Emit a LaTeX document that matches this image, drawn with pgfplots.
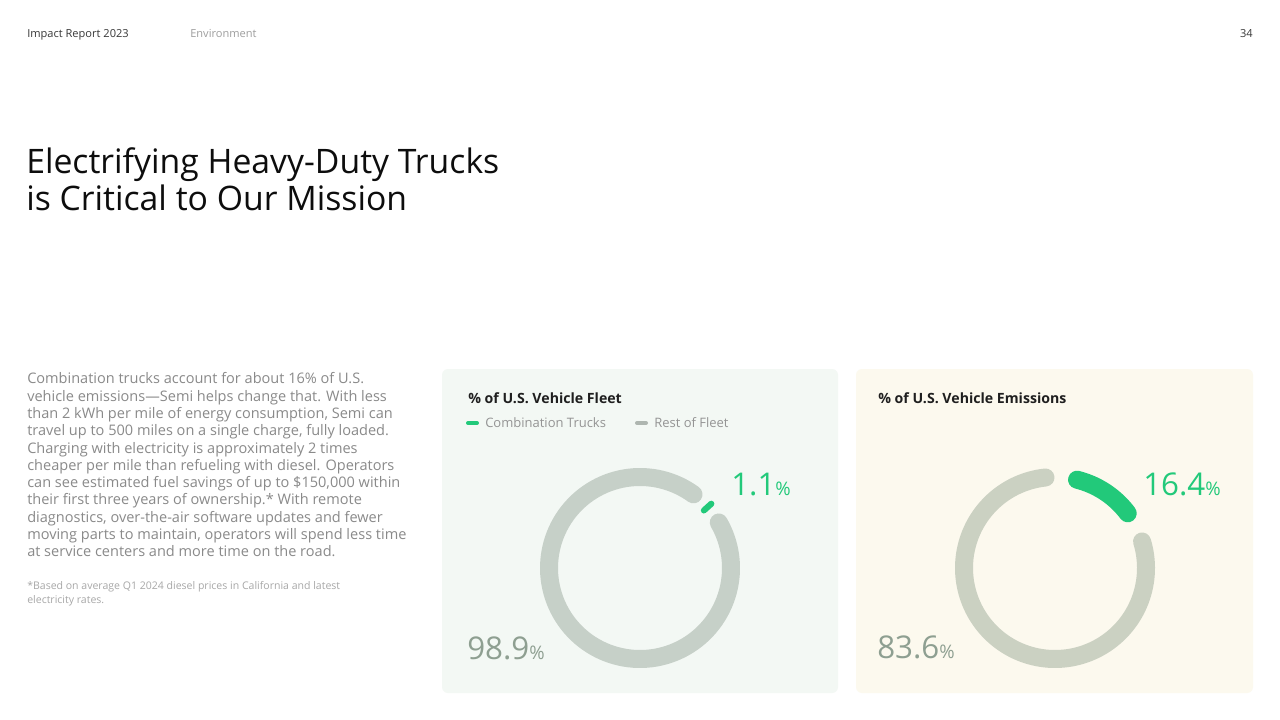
\documentclass[border=0pt]{standalone}
\usepackage{pgfplots}
\pgfplotsset{compat=1.18}
\usepackage{pgfplotstable}
\usepackage{fontspec}
\setmainfont{Open Sans}

\definecolor{ringgreen}{HTML}{22C97A}
\definecolor{ringgrey}{HTML}{C6D0C8}
\definecolor{ringgreyB}{HTML}{CBD1C2}
\definecolor{numgrey}{HTML}{8E9F91}
\definecolor{panelA}{HTML}{F3F8F4}
\definecolor{panelB}{HTML}{FCF9EE}
\definecolor{bodygrey}{HTML}{8A8A8A}
\definecolor{notegrey}{HTML}{A8A8A8}
\definecolor{leggrey}{HTML}{AEB6B0}

% shares in percent
\pgfplotstableread{
part value
combination 1.1
rest 98.9
}\fleetdata
\pgfplotstableread{
part value
combination 16.4
rest 83.6
}\emissiondata

\pgfplotsset{donut/.style={
    hide axis, scale only axis, width=136.5pt, height=136.5pt,
    xmin=-1, xmax=1, ymin=-1, ymax=1, clip=false},
  ring/.style={line width=13.5pt, line cap=round, no markers,
    samples=120, variable=\t}}

\begin{document}
\begin{tikzpicture}[x=0.75pt, y=0.75pt]
\fill[white] (0,0) rectangle (1280,-720);
\coordinate (c1) at (640,-568);
\coordinate (c2) at (1055,-568);

% header
\node[anchor=base west, inner sep=0, font=\fontsize{8.3}{10}\selectfont, text=black!78] at (27,-38) {Impact Report 2023};
\node[anchor=base west, inner sep=0, font=\fontsize{8.3}{10}\selectfont, text=black!38] at (190,-38) {Environment};
\node[anchor=base east, inner sep=0, font=\fontsize{8.3}{10}\selectfont, text=black!78] at (1253,-38) {34};

% title
\node[anchor=base west, inner sep=0, font=\fontsize{25.3}{27}\selectfont, text=black!95] at (26,-174) {Electrifying Heavy-Duty Trucks};
\node[anchor=base west, inner sep=0, font=\fontsize{25.3}{27}\selectfont, text=black!95] at (26,-211) {is Critical to Our Mission};

% body
\node[anchor=north west, inner sep=0, align=left, text=bodygrey,
  font=\fontsize{10.9}{12.97}\selectfont] at (27,-372.5) {%
Combination trucks account for about 16\% of U.S.\\
vehicle emissions---Semi helps change that. With less\\
than 2 kWh per mile of energy consumption, Semi can\\
travel up to 500 miles on a single charge, fully loaded.\\
Charging with electricity is approximately 2 times\\
cheaper per mile than refueling with diesel. Operators\\
can see estimated fuel savings of up to \$150,000 within\\
their first three years of ownership.* With remote\\
diagnostics, over-the-air software updates and fewer\\
moving parts to maintain, operators will spend less time\\
at service centers and more time on the road.};
\node[anchor=north west, inner sep=0, align=left, text=notegrey,
  font=\fontsize{7.9}{10.3}\selectfont] at (27,-581.5) {%
*Based on average Q1 2024 diesel prices in California and latest\\
electricity rates.};

% panels
\fill[panelA, rounded corners=4.5pt] (442,-369) rectangle (838,-693);
\fill[panelB, rounded corners=4.5pt] (856,-369) rectangle (1253,-693);

\node[anchor=base west, inner sep=0, font=\fontsize{10.6}{12}\bfseries\selectfont, text=black!88] at (468,-403) {\% of U.S. Vehicle Fleet};
\node[anchor=base west, inner sep=0, font=\fontsize{10.6}{12}\bfseries\selectfont, text=black!88] at (878,-403) {\% of U.S. Vehicle Emissions};

% legend
\draw[ringgreen, line width=3pt, line cap=round] (468,-423) -- (477,-423);
\node[anchor=base west, inner sep=0, font=\fontsize{9.75}{11}\selectfont, text=black!42] at (485,-427.5) {Combination Trucks};
\draw[leggrey, line width=3pt, line cap=round] (637,-423) -- (646,-423);
\node[anchor=base west, inner sep=0, font=\fontsize{9.75}{11}\selectfont, text=black!42] at (654,-427.5) {Rest of Fleet};

% donut 1: vehicle fleet
\pgfplotstablegetelem{0}{value}\of\fleetdata \let\fa\pgfplotsretval
\pgfmathsetmacro{\fb}{46}        % start angle, clockwise from top
\pgfmathsetmacro{\fgs}{\fb+3.6*\fa+10}
\pgfmathsetmacro{\fge}{\fb+360-10}
\pgfmathsetmacro{\fmid}{\fb+1.8*\fa}
\begin{axis}[donut, at={(c1)}, anchor=center]
\addplot[ring, ringgrey, domain=\fgs:\fge] ({sin(\t)},{cos(\t)});
\addplot[ringgreen, line width=4.6pt, line cap=round, no markers,
  domain=0.945:1.055, samples=2, variable=\r] ({\r*sin(\fmid)},{\r*cos(\fmid)});
\end{axis}

% donut 2: vehicle emissions
\pgfplotstablegetelem{0}{value}\of\emissiondata \let\ea\pgfplotsretval
\pgfmathsetmacro{\eb}{4}
\pgfmathsetmacro{\egs}{\eb+10}
\pgfmathsetmacro{\ege}{\eb+3.6*\ea-10}
\pgfmathsetmacro{\ers}{\eb+3.6*\ea+10}
\pgfmathsetmacro{\ere}{\eb+360-10}
\begin{axis}[donut, at={(c2)}, anchor=center]
\addplot[ring, ringgreyB, domain=\ers:\ere] ({sin(\t)},{cos(\t)});
\addplot[ring, ringgreen, domain=\egs:\ege] ({sin(\t)},{cos(\t)});
\end{axis}

% value labels
\node[anchor=base west, inner sep=0, text=ringgreen] at (731,-495)
  {\fontsize{23.5}{26}\selectfont 1.1\fontsize{14}{16}\selectfont\%};
\node[anchor=base west, inner sep=0, text=numgrey] at (467,-659)
  {\fontsize{23.5}{26}\selectfont 98.9\fontsize{14}{16}\selectfont\%};
\node[anchor=base west, inner sep=0, text=ringgreen] at (1143,-495)
  {\fontsize{23.5}{26}\selectfont 16.4\fontsize{14}{16}\selectfont\%};
\node[anchor=base west, inner sep=0, text=numgrey] at (877,-658)
  {\fontsize{23.5}{26}\selectfont 83.6\fontsize{14}{16}\selectfont\%};
\end{tikzpicture}
\end{document}
